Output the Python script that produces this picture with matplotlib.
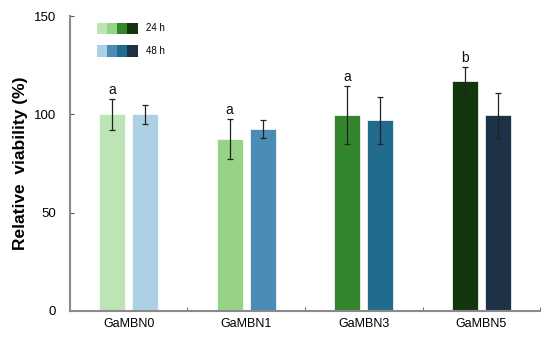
import numpy as np
import matplotlib
matplotlib.use('Agg')
import matplotlib.pyplot as plt
from matplotlib.patches import Rectangle

plt.rcParams['font.family'] = ['Liberation Sans', 'DejaVu Sans']

# data
groups = ['GaMBN0', 'GaMBN1', 'GaMBN3', 'GaMBN5']
mean_24h = [100.0, 87.5, 99.5, 117.0]
err_24h = [8.0, 10.3, 14.8, 7.0]
mean_48h = [100.0, 92.5, 97.0, 99.5]
err_48h = [5.0, 4.4, 12.0, 11.5]
letters = ['a', 'a', 'a', 'b']

colors_24h = ['#bce4b5', '#96d386', '#33862e', '#14360f']
colors_48h = ['#acd1e5', '#4a8cb6', '#216b8d', '#1d3246']

fig = plt.figure(figsize=(5.5, 3.41), dpi=100)
ax = fig.add_axes([0.127, 0.088, 0.855, 0.865])

x = np.arange(len(groups))
w = 0.22
off = 0.14

ax.bar(x - off, mean_24h, w, color=colors_24h, edgecolor='white', linewidth=0.5, zorder=2)
ax.bar(x + off, mean_48h, w, color=colors_48h, edgecolor='white', linewidth=0.5, zorder=2)
ax.errorbar(x - off, mean_24h, yerr=err_24h, fmt='none', ecolor='#222222',
            elinewidth=0.9, capsize=2.5, capthick=0.9, zorder=3)
ax.errorbar(x + off, mean_48h, yerr=err_48h, fmt='none', ecolor='#222222',
            elinewidth=0.9, capsize=2.5, capthick=0.9, zorder=3)

for xi, m, e, t in zip(x - off, mean_24h, err_24h, letters):
    ax.text(xi, m + e + 1.0, t, ha='center', va='bottom', fontsize=10, color='#111111')

ax.set_xlim(-0.5, len(groups) - 0.5)
ax.set_ylim(0, 150)
ax.set_yticks([0, 50, 100, 150])
ax.set_xticks(x)
ax.set_xticklabels(groups, fontsize=9)
ax.set_xticks(np.arange(len(groups)) + 0.5, minor=True)
ax.tick_params(axis='x', which='major', length=0, pad=5)
ax.tick_params(axis='x', which='minor', direction='in', length=3, color='#555555')
ax.tick_params(axis='y', direction='in', length=3, labelsize=9.5, pad=10, color='#555555')

for s in ['top', 'right']:
    ax.spines[s].set_visible(False)
for s in ['left', 'bottom']:
    ax.spines[s].set_color('#8a8a8a')
    ax.spines[s].set_linewidth(1.5)

ax.set_ylabel('Relative  viability (%)', fontsize=12.5, fontweight='bold', labelpad=4)

# legend made of colour swatches
sw_w = 0.0218
for cols, lab, yb in [(colors_24h, '24 h', 0.939), (colors_48h, '48 h', 0.862)]:
    for i, c in enumerate(cols):
        ax.add_patch(Rectangle((0.057 + i * sw_w, yb), sw_w, 0.039, transform=ax.transAxes,
                               facecolor=c, edgecolor='none', clip_on=False))
    ax.text(0.162, yb + 0.02, lab, transform=ax.transAxes, fontsize=7, va='center', ha='left')

fig.savefig('out.png', dpi=100)
